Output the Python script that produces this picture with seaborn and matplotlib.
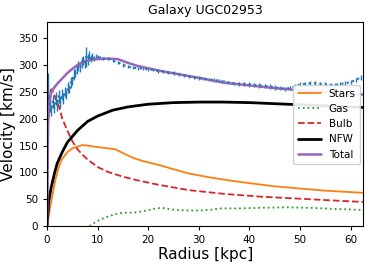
import seaborn as sns
import matplotlib.pyplot as plt
import pandas as pd

# observed rotation curve
r_obs = [0.2, 0.5, 0.8, 1.1, 1.4, 1.7, 2.0, 2.3, 2.6, 2.9, 3.2, 3.5, 3.8, 4.1, 4.4, 4.7,
         5.0, 5.3, 5.6, 5.9, 6.2, 6.5, 6.8, 7.1, 7.4, 7.7, 8.0, 8.3, 8.6, 8.9, 9.2, 9.6,
         10, 10.5, 11, 12, 13, 14, 15, 16, 17, 18, 19, 20, 21, 22, 23, 24, 25, 26, 27,
         28, 29, 30, 31, 32, 33, 34, 35, 36, 37, 38, 39, 40, 41, 42, 43, 44, 45, 46, 47,
         48, 49, 50, 51, 52, 53, 54, 55, 56, 57, 58, 59, 60, 61, 62]
v_obs = [250, 225, 215, 232, 220, 238, 225, 242, 230, 245, 238, 250, 245, 258, 255, 268,
         270, 282, 285, 292, 298, 295, 305, 308, 303, 315, 310, 318, 312, 316, 312, 316,
         315, 314, 312, 312, 308, 305, 300, 297, 295, 294, 293, 292, 291, 289, 288, 286, 285, 283, 281,
         279, 277, 276, 275, 273, 272, 271, 269, 267, 266, 265, 265, 264, 263, 262, 261, 260, 258, 257, 256,
         257, 260, 264, 265, 266, 266, 265, 264, 263, 263, 265, 266, 268, 272, 277]
e_obs = [35, 12, 10, 12, 10, 12, 10, 12, 10, 10, 10, 10, 8, 10, 8, 10,
         8, 10, 8, 8, 10, 8, 10, 8, 8, 18, 10, 8, 6, 6, 4, 4,
         3, 3, 3, 3, 3, 3, 3, 3, 3, 3, 3, 3, 3, 3, 3, 3, 3, 3, 3,
         3, 3, 3, 3, 3, 3, 3, 3, 3, 3, 4, 4, 4, 4, 4, 4, 4, 4, 4, 4,
         4, 4, 4, 4, 4, 4, 4, 4, 4, 4, 4, 4, 4, 4, 5]

# model components
r_stars = [0, 0.5, 1, 1.5, 2, 2.5, 3, 4, 5, 6, 7, 8, 10, 12, 13.5, 15, 17, 19, 22, 25, 28, 32, 36, 40, 45, 50, 55, 62.5]
v_stars = [0, 30, 55, 80, 100, 115, 125, 138, 145, 148, 151, 150, 147, 145, 143, 136, 127, 121, 114, 106, 98, 91, 85, 80, 74, 70, 66, 62]

r_gas = [8.4, 9.5, 10.5, 11.8, 13, 14.3, 15.5, 17, 18.5, 20.2, 21.5, 22.7, 24, 25.5, 28, 30, 32, 34.5, 38, 42, 47.6, 52, 57, 62.5]
v_gas = [0, 7, 12, 17, 21, 24, 25, 25, 27, 30, 33, 34, 32, 30, 29, 29, 30, 33, 33, 34, 35, 34, 32, 30]

r_bulb = [0, 0.2, 0.5, 0.8, 1.2, 1.8, 2.4, 3, 4, 5, 6, 7, 8, 10, 12, 15, 18, 22, 28, 35, 42, 50, 56, 62.5]
v_bulb = [0, 200, 245, 255, 250, 235, 221, 200, 178, 158, 143, 133, 124, 110, 101, 92, 85, 77, 67, 60, 55, 51, 48, 45]

r_nfw = [0, 0.3, 0.8, 1.5, 2, 3, 4, 6, 8, 10, 13, 16, 20, 25, 30, 35, 40, 45, 50, 55, 62.5]
v_nfw = [0, 45, 72, 100, 117, 138, 156, 178, 195, 205, 216, 222, 227, 230, 231, 231, 230, 228, 226, 224, 221]

r_tot = [0, 0.1, 0.2, 0.4, 0.7, 1.0, 1.4, 2, 3, 4, 5, 6, 7, 8, 9, 10, 12, 14, 16, 18, 20, 23, 26, 30, 35, 40, 45, 50, 55, 62.5]
v_tot = [0, 120, 190, 225, 245, 252, 258, 265, 275, 285, 293, 300, 305, 308, 310, 311, 312, 311, 304, 298, 294, 288, 283, 276, 267, 262, 257, 253, 250, 245]

sns.set_style("ticks")
plt.rcParams['font.family'] = ['DejaVu Sans']
plt.rcParams['text.color'] = 'black'
plt.rcParams['axes.labelcolor'] = 'black'
plt.rcParams['xtick.color'] = 'black'
plt.rcParams['ytick.color'] = 'black'

fig, ax = plt.subplots(figsize=(3.74, 2.66), dpi=100)
fig.subplots_adjust(left=0.126, right=0.971, bottom=0.15, top=0.917)

ax.errorbar(r_obs, v_obs, yerr=e_obs, fmt=':', color='#1f77b4', lw=1.5, elinewidth=1)

sns.lineplot(x=r_stars, y=v_stars, ax=ax, color='#ff7f0e', lw=1.3, label='Stars', sort=False)
sns.lineplot(x=r_gas, y=v_gas, ax=ax, color='#2ca02c', lw=1.3, linestyle=':', label='Gas', sort=False)
sns.lineplot(x=r_bulb, y=v_bulb, ax=ax, color='#d62728', lw=1.3, linestyle='--', label='Bulb', sort=False)
sns.lineplot(x=r_nfw, y=v_nfw, ax=ax, color='black', lw=2, label='NFW', sort=False)
sns.lineplot(x=r_tot, y=v_tot, ax=ax, color='#9467bd', lw=1.8, label='Total', sort=False)

ax.set_xlim(0, 62.5)
ax.set_ylim(0, 380)
ax.set_xticks([0, 10, 20, 30, 40, 50, 60])
ax.set_yticks(range(0, 351, 50))
ax.tick_params(labelsize=7.5, length=3)
ax.set_xlabel('Radius [kpc]', fontsize=11, labelpad=1)
ax.set_ylabel('Velocity [km/s]', fontsize=11, labelpad=2)
ax.set_title('Galaxy UGC02953', fontsize=9)
for s in ax.spines.values():
    s.set_color('black')
ax.legend(loc='center right', fontsize=7.5, frameon=True, framealpha=0.9,
          handlelength=2.2, borderaxespad=0.3)

fig.savefig('out.png', dpi=100)
